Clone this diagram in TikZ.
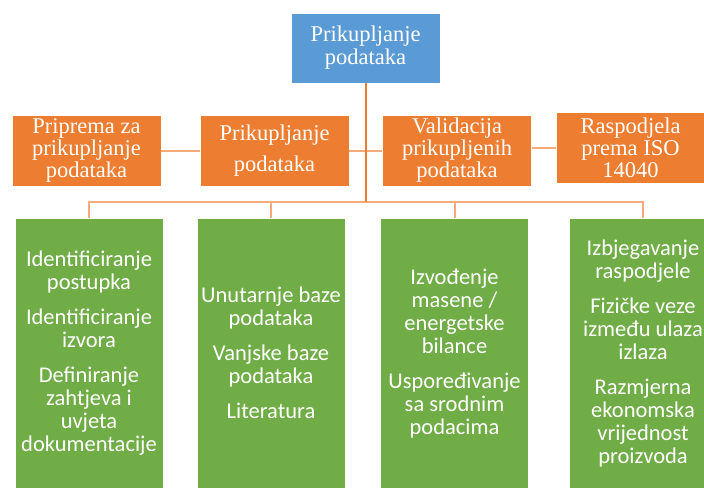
\documentclass[tikz,border=0pt]{standalone}
\usepackage{fontspec}
\setmainfont{Liberation Serif}
\newfontfamily\taskFont{Carlito}
\usepackage{tikz}
\usetikzlibrary{positioning}
\definecolor{rootBlue}{RGB}{91,155,213}
\definecolor{stepOrange}{RGB}{237,125,49}
\definecolor{linkOrange}{RGB}{244,171,121}
\definecolor{taskGreen}{RGB}{112,173,71}
\tikzstyle{chart} = [x = 1pt, y = -1pt]
\tikzstyle{boxStyle} = [draw=white, line width=.6pt, text=white, inner sep=0pt, align=center]
\tikzstyle{rootBox} = [boxStyle, fill=rootBlue, minimum width=149pt, minimum height=70pt, font=\fontsize{22.5}{23}\selectfont]
\tikzstyle{stepBox} = [boxStyle, fill=stepOrange, minimum width=149pt, minimum height=71pt, font=\fontsize{22.5}{22}\selectfont]
\tikzstyle{taskBox} = [boxStyle, fill=taskGreen, minimum width=148pt, minimum height=270pt, font=\taskFont\fontsize{22.5}{23}\selectfont]
\tikzstyle{trunkLine} = [color=stepOrange, line width=2pt]
\tikzstyle{busLine} = [color=linkOrange, line width=2pt]
\tikzstyle{linkLine} = [color=linkOrange, line width=2pt]
\newcommand{\paraGap}{\\[12pt]}
\newcommand{\stepNode}[4]{\node [stepBox] (#1) at (#2, #3) {#4};}
\newcommand{\taskNode}[3]{\node [taskBox] (#1) at (#2, 353) {#3};}

\begin{document}
\begin{tikzpicture}[chart]
  \useasboundingbox (0,0) rectangle (704,488);
  \clip (0,0) rectangle (704,488);
  \node [rootBox] (root) at (365.5, 48) {Prikupljanje\\podataka};

  \stepNode{o1}{86.5}{150.5}{Priprema za\\prikupljanje\\podataka}
  \stepNode{o2}{274.5}{150.5}{Prikupljanje\\[9pt]podataka}
  \stepNode{o3}{457}{150.5}{Validacija\\prikupljenih\\podataka}
  \stepNode{o4}{630.5}{147.5}{Raspodjela\\prema ISO\\14040}

  \taskNode{g1}{89}{Identificiranje\\postupka\paraGap Identificiranje\\izvora\paraGap Definiranje\\zahtjeva i\\uvjeta\\dokumentacije}
  \taskNode{g2}{271}{Unutarnje baze\\podataka\paraGap Vanjske baze\\podataka\paraGap Literatura}
  \taskNode{g3}{454.5}{Izvođenje\\masene /\\energetske\\bilance\paraGap Uspoređivanje\\sa srodnim\\podacima}
  \taskNode{g4}{643}{Izbjegavanje\\raspodjele\paraGap Fizičke veze\\između ulaza\\izlaza\paraGap Razmjerna\\ekonomska\\vrijednost\\proizvoda}

  \draw [linkLine] (o1) -- (o2);
  \draw [linkLine] (o2) -- (o3);
  \draw [linkLine] (o4.west -| o3.east) -- (o4.west);

  \coordinate (hub) at (365.5, 202);
  \foreach \task in {g1,g2,g3,g4} {
    \draw [busLine] (hub) -| (\task.north);
  }
  \draw [trunkLine] (root.south) -- (hub);
\end{tikzpicture}
\end{document}
